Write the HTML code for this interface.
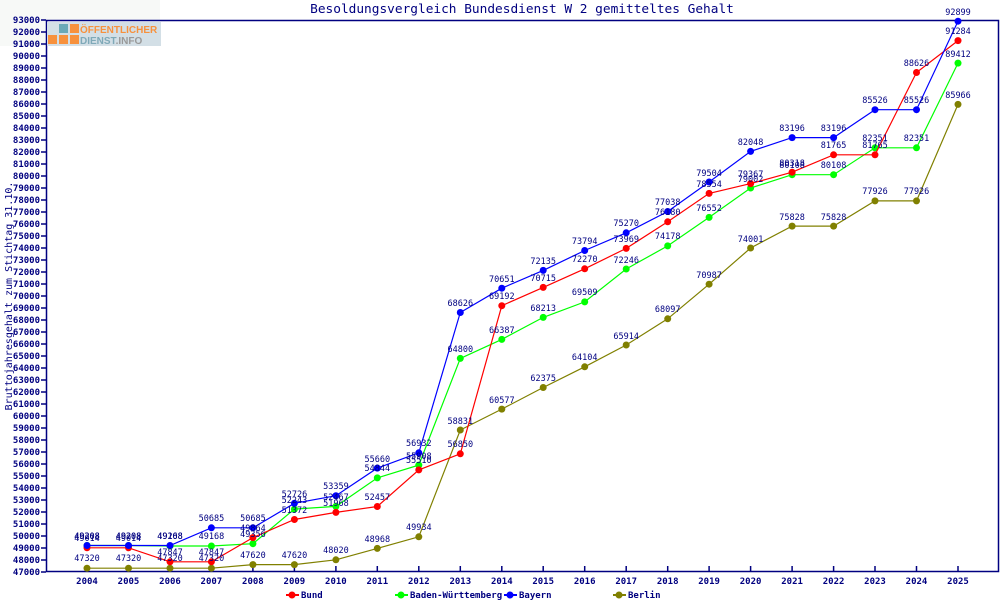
<!DOCTYPE html>
<html><head><meta charset="utf-8"><style>
html,body{margin:0;padding:0;background:#fff;}
svg text{font-family:"DejaVu Sans Mono","Liberation Mono",monospace;}
.t{font-size:8.5px;fill:#000080;text-anchor:middle;}
.y{font-size:9px;fill:#000080;text-anchor:end;font-weight:bold;}
.x{font-size:9px;fill:#000080;text-anchor:middle;font-weight:bold;}
</style></head><body>
<svg width="1000" height="600" viewBox="0 0 1000 600" xmlns="http://www.w3.org/2000/svg">
<rect x="0" y="0" width="160" height="46" fill="#f7f9f7"/>
<text x="522" y="13" style="font-size:12.8px;fill:#000080;text-anchor:middle">Besoldungsvergleich Bundesdienst W 2 gemitteltes Gehalt</text>
<text transform="translate(12,296) rotate(-90)" style="font-size:10px;fill:#000080;text-anchor:middle">Bruttojahresgehalt zum Stichtag 31.10.</text>
<rect x="46.5" y="20.5" width="952" height="551" fill="#fff" stroke="#000080" stroke-width="1.5"/>
<rect x="47" y="22" width="114" height="24" fill="#d3dfe6"/>
<rect x="48" y="35" width="9" height="9" fill="#f7913d"/><rect x="59" y="35" width="9" height="9" fill="#f7913d"/><rect x="70" y="35" width="9" height="9" fill="#f7913d"/>
<rect x="59" y="24" width="9" height="9" fill="#6aa9b8"/><rect x="70" y="24" width="9" height="9" fill="#f7913d"/>
<text x="80" y="33" style="font-family:'Liberation Sans',sans-serif;font-size:10px;font-weight:bold;fill:#f7913d">ÖFFENTLICHER</text>
<text x="80" y="44" style="font-family:'Liberation Sans',sans-serif;font-size:10px;font-weight:bold;fill:#7fa9b8">DIENST<tspan fill="#999">.INFO</tspan></text>
<g stroke="#000080" stroke-width="1.5">
<path d="M41 572H46M41 560H46M41 548H46M41 536H46M41 524H46M41 512H46M41 500H46M41 488H46M41 476H46M41 464H46M41 452H46M41 440H46M41 428H46M41 416H46M41 404H46M41 392H46M41 380H46M41 368H46M41 356H46M41 344H46M41 332H46M41 320H46M41 308H46M41 296H46M41 284H46M41 272H46M41 260H46M41 248H46M41 236H46M41 224H46M41 212H46M41 200H46M41 188H46M41 176H46M41 164H46M41 152H46M41 140H46M41 128H46M41 116H46M41 104H46M41 92H46M41 80H46M41 68H46M41 56H46M41 44H46M41 32H46M41 20H46"/>
<path d="M87 566V572M128.5 566V572M170 566V572M211.4 566V572M252.9 566V572M294.4 566V572M335.9 566V572M377.3 566V572M418.8 566V572M460.3 566V572M501.8 566V572M543.2 566V572M584.7 566V572M626.2 566V572M667.7 566V572M709.1 566V572M750.6 566V572M792.1 566V572M833.6 566V572M875 566V572M916.5 566V572M958 566V572"/>
</g>
<g class="y">
<text x="40" y="575">47000</text><text x="40" y="563">48000</text><text x="40" y="551">49000</text><text x="40" y="539">50000</text><text x="40" y="527">51000</text><text x="40" y="515">52000</text><text x="40" y="503">53000</text><text x="40" y="491">54000</text><text x="40" y="479">55000</text><text x="40" y="467">56000</text><text x="40" y="455">57000</text><text x="40" y="443">58000</text><text x="40" y="431">59000</text><text x="40" y="419">60000</text><text x="40" y="407">61000</text><text x="40" y="395">62000</text><text x="40" y="383">63000</text><text x="40" y="371">64000</text><text x="40" y="359">65000</text><text x="40" y="347">66000</text><text x="40" y="335">67000</text><text x="40" y="323">68000</text><text x="40" y="311">69000</text><text x="40" y="299">70000</text><text x="40" y="287">71000</text><text x="40" y="275">72000</text><text x="40" y="263">73000</text><text x="40" y="251">74000</text><text x="40" y="239">75000</text><text x="40" y="227">76000</text><text x="40" y="215">77000</text><text x="40" y="203">78000</text><text x="40" y="191">79000</text><text x="40" y="179">80000</text><text x="40" y="167">81000</text><text x="40" y="155">82000</text><text x="40" y="143">83000</text><text x="40" y="131">84000</text><text x="40" y="119">85000</text><text x="40" y="107">86000</text><text x="40" y="95">87000</text><text x="40" y="83">88000</text><text x="40" y="71">89000</text><text x="40" y="59">90000</text><text x="40" y="47">91000</text><text x="40" y="35">92000</text><text x="40" y="23">93000</text>
</g>
<g class="x">
<text x="87" y="584">2004</text><text x="128.5" y="584">2005</text><text x="170" y="584">2006</text><text x="211.4" y="584">2007</text><text x="252.9" y="584">2008</text><text x="294.4" y="584">2009</text><text x="335.9" y="584">2010</text><text x="377.3" y="584">2011</text><text x="418.8" y="584">2012</text><text x="460.3" y="584">2013</text><text x="501.8" y="584">2014</text><text x="543.2" y="584">2015</text><text x="584.7" y="584">2016</text><text x="626.2" y="584">2017</text><text x="667.7" y="584">2018</text><text x="709.1" y="584">2019</text><text x="750.6" y="584">2020</text><text x="792.1" y="584">2021</text><text x="833.6" y="584">2022</text><text x="875" y="584">2023</text><text x="916.5" y="584">2024</text><text x="958" y="584">2025</text>
</g>
<polyline fill="none" stroke="#808000" stroke-width="1.2" points="87,568.2 128.5,568.2 170,568.2 211.4,568.2 252.9,564.6 294.4,564.6 335.9,559.8 377.3,548.4 418.8,536.8 460.3,430 501.8,409.1 543.2,387.5 584.7,366.8 626.2,345 667.7,318.8 709.1,284.2 750.6,248 792.1,226.1 833.6,226.1 875,200.9 916.5,200.9 958,104.4"/>
<g fill="#808000"><circle cx="87" cy="568.2" r="3.5"/><circle cx="128.5" cy="568.2" r="3.5"/><circle cx="170" cy="568.2" r="3.5"/><circle cx="211.4" cy="568.2" r="3.5"/><circle cx="252.9" cy="564.6" r="3.5"/><circle cx="294.4" cy="564.6" r="3.5"/><circle cx="335.9" cy="559.8" r="3.5"/><circle cx="377.3" cy="548.4" r="3.5"/><circle cx="418.8" cy="536.8" r="3.5"/><circle cx="460.3" cy="430" r="3.5"/><circle cx="501.8" cy="409.1" r="3.5"/><circle cx="543.2" cy="387.5" r="3.5"/><circle cx="584.7" cy="366.8" r="3.5"/><circle cx="626.2" cy="345" r="3.5"/><circle cx="667.7" cy="318.8" r="3.5"/><circle cx="709.1" cy="284.2" r="3.5"/><circle cx="750.6" cy="248" r="3.5"/><circle cx="792.1" cy="226.1" r="3.5"/><circle cx="833.6" cy="226.1" r="3.5"/><circle cx="875" cy="200.9" r="3.5"/><circle cx="916.5" cy="200.9" r="3.5"/><circle cx="958" cy="104.4" r="3.5"/></g>
<polyline fill="none" stroke="#00ff00" stroke-width="1.2" points="87,545.5 128.5,545.5 170,546 211.4,546 252.9,543.7 294.4,509.1 335.9,506.4 377.3,477.9 418.8,465.1 460.3,358.4 501.8,339.4 543.2,317.4 584.7,301.9 626.2,269 667.7,245.9 709.1,217.4 750.6,188 792.1,174.7 833.6,174.7 875,147.8 916.5,147.8 958,63.1"/>
<g fill="#00ff00"><circle cx="87" cy="545.5" r="3.5"/><circle cx="128.5" cy="545.5" r="3.5"/><circle cx="170" cy="546" r="3.5"/><circle cx="211.4" cy="546" r="3.5"/><circle cx="252.9" cy="543.7" r="3.5"/><circle cx="294.4" cy="509.1" r="3.5"/><circle cx="335.9" cy="506.4" r="3.5"/><circle cx="377.3" cy="477.9" r="3.5"/><circle cx="418.8" cy="465.1" r="3.5"/><circle cx="460.3" cy="358.4" r="3.5"/><circle cx="501.8" cy="339.4" r="3.5"/><circle cx="543.2" cy="317.4" r="3.5"/><circle cx="584.7" cy="301.9" r="3.5"/><circle cx="626.2" cy="269" r="3.5"/><circle cx="667.7" cy="245.9" r="3.5"/><circle cx="709.1" cy="217.4" r="3.5"/><circle cx="750.6" cy="188" r="3.5"/><circle cx="792.1" cy="174.7" r="3.5"/><circle cx="833.6" cy="174.7" r="3.5"/><circle cx="875" cy="147.8" r="3.5"/><circle cx="916.5" cy="147.8" r="3.5"/><circle cx="958" cy="63.1" r="3.5"/></g>
<polyline fill="none" stroke="#ff0000" stroke-width="1.2" points="87,547.8 128.5,547.8 170,561.8 211.4,561.8 252.9,537.6 294.4,519.5 335.9,512.4 377.3,506.5 418.8,469.9 460.3,453.8 501.8,305.7 543.2,287.4 584.7,268.8 626.2,248.4 667.7,221.8 709.1,193.4 750.6,183.6 792.1,172.2 833.6,154.8 875,154.8 916.5,72.5 958,40.6"/>
<g fill="#ff0000"><circle cx="87" cy="547.8" r="3.5"/><circle cx="128.5" cy="547.8" r="3.5"/><circle cx="170" cy="561.8" r="3.5"/><circle cx="211.4" cy="561.8" r="3.5"/><circle cx="252.9" cy="537.6" r="3.5"/><circle cx="294.4" cy="519.5" r="3.5"/><circle cx="335.9" cy="512.4" r="3.5"/><circle cx="377.3" cy="506.5" r="3.5"/><circle cx="418.8" cy="469.9" r="3.5"/><circle cx="460.3" cy="453.8" r="3.5"/><circle cx="501.8" cy="305.7" r="3.5"/><circle cx="543.2" cy="287.4" r="3.5"/><circle cx="584.7" cy="268.8" r="3.5"/><circle cx="626.2" cy="248.4" r="3.5"/><circle cx="667.7" cy="221.8" r="3.5"/><circle cx="709.1" cy="193.4" r="3.5"/><circle cx="750.6" cy="183.6" r="3.5"/><circle cx="792.1" cy="172.2" r="3.5"/><circle cx="833.6" cy="154.8" r="3.5"/><circle cx="875" cy="154.8" r="3.5"/><circle cx="916.5" cy="72.5" r="3.5"/><circle cx="958" cy="40.6" r="3.5"/></g>
<polyline fill="none" stroke="#0000ff" stroke-width="1.2" points="87,545.5 128.5,545.5 170,545.5 211.4,527.8 252.9,527.8 294.4,503.3 335.9,495.7 377.3,468.1 418.8,452.8 460.3,312.5 501.8,288.2 543.2,270.4 584.7,250.5 626.2,232.8 667.7,211.5 709.1,182 750.6,151.4 792.1,137.6 833.6,137.6 875,109.7 916.5,109.7 958,21.2"/>
<g fill="#0000ff"><circle cx="87" cy="545.5" r="3.5"/><circle cx="128.5" cy="545.5" r="3.5"/><circle cx="170" cy="545.5" r="3.5"/><circle cx="211.4" cy="527.8" r="3.5"/><circle cx="252.9" cy="527.8" r="3.5"/><circle cx="294.4" cy="503.3" r="3.5"/><circle cx="335.9" cy="495.7" r="3.5"/><circle cx="377.3" cy="468.1" r="3.5"/><circle cx="418.8" cy="452.8" r="3.5"/><circle cx="460.3" cy="312.5" r="3.5"/><circle cx="501.8" cy="288.2" r="3.5"/><circle cx="543.2" cy="270.4" r="3.5"/><circle cx="584.7" cy="250.5" r="3.5"/><circle cx="626.2" cy="232.8" r="3.5"/><circle cx="667.7" cy="211.5" r="3.5"/><circle cx="709.1" cy="182" r="3.5"/><circle cx="750.6" cy="151.4" r="3.5"/><circle cx="792.1" cy="137.6" r="3.5"/><circle cx="833.6" cy="137.6" r="3.5"/><circle cx="875" cy="109.7" r="3.5"/><circle cx="916.5" cy="109.7" r="3.5"/><circle cx="958" cy="21.2" r="3.5"/></g>
<g class="t">
<text x="87" y="561">47320</text><text x="128.5" y="561">47320</text><text x="170" y="561">47320</text><text x="211.4" y="561">47320</text><text x="252.9" y="558">47620</text><text x="294.4" y="558">47620</text><text x="335.9" y="553">48020</text><text x="377.3" y="542">48968</text><text x="418.8" y="530">49934</text><text x="460.3" y="424">58831</text><text x="501.8" y="403">60577</text><text x="543.2" y="381">62375</text><text x="584.7" y="360">64104</text><text x="626.2" y="339">65914</text><text x="667.7" y="312">68097</text><text x="709.1" y="278">70987</text><text x="750.6" y="242">74001</text><text x="792.1" y="220">75828</text><text x="833.6" y="220">75828</text><text x="875" y="194">77926</text><text x="916.5" y="194">77926</text><text x="958" y="98">85966</text>
<text x="87" y="539">49208</text><text x="128.5" y="539">49208</text><text x="170" y="539">49168</text><text x="211.4" y="539">49168</text><text x="252.9" y="537">49356</text><text x="294.4" y="503">52243</text><text x="335.9" y="500">52467</text><text x="377.3" y="471">54844</text><text x="418.8" y="459">55908</text><text x="460.3" y="352">64800</text><text x="501.8" y="333">66387</text><text x="543.2" y="311">68213</text><text x="584.7" y="295">69509</text><text x="626.2" y="263">72246</text><text x="667.7" y="239">74178</text><text x="709.1" y="211">76552</text><text x="750.6" y="182">79002</text><text x="792.1" y="168">80108</text><text x="833.6" y="168">80108</text><text x="875" y="141">82351</text><text x="916.5" y="141">82351</text><text x="958" y="57">89412</text>
<text x="87" y="541">49014</text><text x="128.5" y="541">49014</text><text x="170" y="555">47847</text><text x="211.4" y="555">47847</text><text x="252.9" y="531">49864</text><text x="294.4" y="513">51372</text><text x="335.9" y="506">51968</text><text x="377.3" y="500">52457</text><text x="418.8" y="463">55510</text><text x="460.3" y="447">56850</text><text x="501.8" y="299">69192</text><text x="543.2" y="281">70715</text><text x="584.7" y="262">72270</text><text x="626.2" y="242">73969</text><text x="667.7" y="215">76180</text><text x="709.1" y="187">78554</text><text x="750.6" y="177">79367</text><text x="792.1" y="166">80318</text><text x="833.6" y="148">81765</text><text x="875" y="148">81765</text><text x="916.5" y="66">88626</text><text x="958" y="34">91284</text>
<text x="87" y="539">49208</text><text x="128.5" y="539">49208</text><text x="170" y="539">49208</text><text x="211.4" y="521">50685</text><text x="252.9" y="521">50685</text><text x="294.4" y="497">52726</text><text x="335.9" y="489">53359</text><text x="377.3" y="462">55660</text><text x="418.8" y="446">56932</text><text x="460.3" y="306">68626</text><text x="501.8" y="282">70651</text><text x="543.2" y="264">72135</text><text x="584.7" y="244">73794</text><text x="626.2" y="226">75270</text><text x="667.7" y="205">77038</text><text x="709.1" y="176">79504</text><text x="750.6" y="145">82048</text><text x="792.1" y="131">83196</text><text x="833.6" y="131">83196</text><text x="875" y="103">85526</text><text x="916.5" y="103">85526</text><text x="958" y="15">92899</text>
</g>
<g style="font-size:9px;fill:#000080;font-weight:bold">
<line x1="286" y1="595" x2="299" y2="595" stroke="#ff0000" stroke-width="2"/><circle cx="292" cy="595" r="3.5" fill="#ff0000"/><text x="301" y="598">Bund</text>
<line x1="395" y1="595" x2="408" y2="595" stroke="#00ff00" stroke-width="2"/><circle cx="401" cy="595" r="3.5" fill="#00ff00"/><text x="410" y="598">Baden-Württemberg</text>
<line x1="504" y1="595" x2="517" y2="595" stroke="#0000ff" stroke-width="2"/><circle cx="510" cy="595" r="3.5" fill="#0000ff"/><text x="519" y="598">Bayern</text>
<line x1="613" y1="595" x2="626" y2="595" stroke="#808000" stroke-width="2"/><circle cx="619" cy="595" r="3.5" fill="#808000"/><text x="628" y="598">Berlin</text>
</g>
</svg>
</body></html>
